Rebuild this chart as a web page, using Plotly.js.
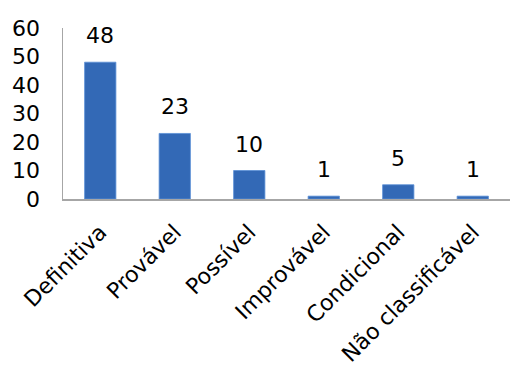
<!DOCTYPE html>
<html>
<head>
<meta charset="utf-8">
<script src="https://cdn.plot.ly/plotly-3.0.1.min.js"></script>
<style>html,body{margin:0;padding:0;background:#fff;}#chart{width:514px;height:367px;}</style>
</head>
<body>
<div id="chart"></div>
<script>
var categories = ["Definitiva", "Provável", "Possível", "Improvável", "Condicional", "Não classificável"];
var values = [48, 23, 10, 1, 5, 1];
var yTicks = [0, 10, 20, 30, 40, 50, 60];

var font = {family: "DejaVu Sans, Liberation Sans, Arial, sans-serif", size: 22, color: "#000"};

var trace = {
  type: "bar",
  x: categories,
  y: values,
  marker: {color: "#3369b6", line: {color: "#5b8fd6", width: 0.8}},
  hoverinfo: "none"
};

var annotations = categories.map(function (c, i) {
  return {
    x: c, y: values[i], xref: "x", yref: "y",
    text: String(values[i]), showarrow: false,
    yanchor: "bottom", yshift: 12, font: font
  };
});

var layout = {
  width: 514, height: 367,
  margin: {l: 63, r: 4, t: 28, b: 168},
  paper_bgcolor: "#fff", plot_bgcolor: "#fff",
  showlegend: false,
  bargap: 0.58,
  font: font,
  xaxis: {
    type: "category",
    tickangle: -45,
    showline: true, linecolor: "#a6a6a6", linewidth: 1.5,
    showgrid: false, zeroline: false,
    ticks: "outside", ticklen: 10, tickcolor: "rgba(0,0,0,0)",
    tickfont: font,
    fixedrange: true
  },
  yaxis: {
    range: [0, 60],
    tickvals: yTicks,
    ticktext: yTicks.map(String),
    showline: true, linecolor: "#a6a6a6", linewidth: 1.5,
    showgrid: false, zeroline: false,
    ticks: "outside", ticklen: 17, tickcolor: "rgba(0,0,0,0)",
    tickfont: font,
    fixedrange: true
  },
  annotations: annotations
};

Plotly.newPlot("chart", [trace], layout, {displayModeBar: false, staticPlot: true});
</script>
</body>
</html>
